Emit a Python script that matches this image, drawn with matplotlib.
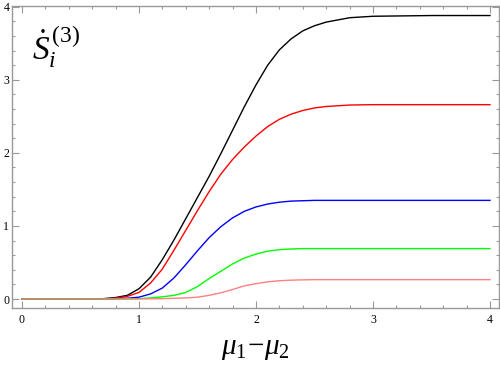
import matplotlib
matplotlib.use('Agg')
import matplotlib.pyplot as plt
import numpy as np
from matplotlib.ticker import MultipleLocator

# values
x = [0, 0.5, 0.7, 0.8, 0.9, 1.0, 1.1, 1.2, 1.3, 1.4, 1.5, 1.6, 1.7, 1.8, 1.9,
     2.0, 2.1, 2.2, 2.3, 2.4, 2.5, 2.6, 2.8, 3.0, 3.5, 4.0]
black = [0, 0, 0.005, 0.02, 0.05, 0.14, 0.30, 0.54, 0.81, 1.10, 1.39, 1.68, 1.99, 2.31, 2.63,
         2.93, 3.20, 3.41, 3.56, 3.67, 3.74, 3.79, 3.85, 3.87, 3.88, 3.88]
red = [0, 0, 0.003, 0.012, 0.035, 0.09, 0.22, 0.41, 0.67, 0.94, 1.21, 1.47, 1.71, 1.91, 2.08,
       2.23, 2.36, 2.46, 2.53, 2.58, 2.615, 2.635, 2.655, 2.66, 2.66, 2.66]
blue = [0, 0, 0, 0.003, 0.01, 0.025, 0.07, 0.15, 0.29, 0.47, 0.66, 0.84, 0.99, 1.11, 1.20,
        1.26, 1.30, 1.325, 1.34, 1.345, 1.35, 1.35, 1.35, 1.35, 1.35, 1.35]
green = [0, 0, 0, 0, 0.002, 0.005, 0.015, 0.03, 0.05, 0.09, 0.17, 0.28, 0.38, 0.48, 0.56,
         0.615, 0.655, 0.675, 0.685, 0.69, 0.69, 0.69, 0.69, 0.69, 0.69, 0.69]
pink = [0, 0, 0, 0, 0, 0.001, 0.002, 0.005, 0.01, 0.015, 0.025, 0.05, 0.085, 0.13, 0.18,
        0.21, 0.235, 0.25, 0.258, 0.262, 0.265, 0.265, 0.265, 0.265, 0.265, 0.265]

series = [(black, 'black'), (red, '#ff0000'), (blue, '#0000ff'),
          (green, '#00ff00'), (pink, '#ff8080')]

plt.rcParams['mathtext.fontset'] = 'custom'
plt.rcParams['mathtext.rm'] = 'Liberation Serif'
plt.rcParams['mathtext.it'] = 'Liberation Serif:italic'

fig = plt.figure(figsize=(5, 3.66), dpi=100)
ax = fig.add_axes([0.024, 0.1585, 0.974, 0.825])

for ys, c in series:
    ax.plot(x, ys, color=c, lw=1.0)

ax.set_xlim(-0.085, 4.077)
ax.set_ylim(-0.123, 4.01)

frame = '#999999'
for s in ax.spines.values():
    s.set_color(frame)
    s.set_linewidth(1.0)

ax.xaxis.set_major_locator(MultipleLocator(1))
ax.xaxis.set_minor_locator(MultipleLocator(0.2))
ax.yaxis.set_major_locator(MultipleLocator(1))
ax.yaxis.set_minor_locator(MultipleLocator(0.2))
ax.tick_params(which='both', direction='in', top=True, right=True, color=frame, width=0.8)
ax.tick_params(which='major', length=5, labelsize=8.5, pad=4)
ax.tick_params(which='minor', length=2.5)
for lab in ax.get_xticklabels() + ax.get_yticklabels():
    lab.set_family('Liberation Serif')
ax.tick_params(axis='y', pad=2)

ax.text(0.042, 0.865, r'$\dot{S}_i^{\,(3)}$', transform=ax.transAxes, fontsize=24,
        color='black', ha='left', va='center')
ax.set_xlabel(r'$\mu_1\!-\!\mu_2$', fontsize=21, labelpad=6)

fig.savefig('out.png', dpi=100)
